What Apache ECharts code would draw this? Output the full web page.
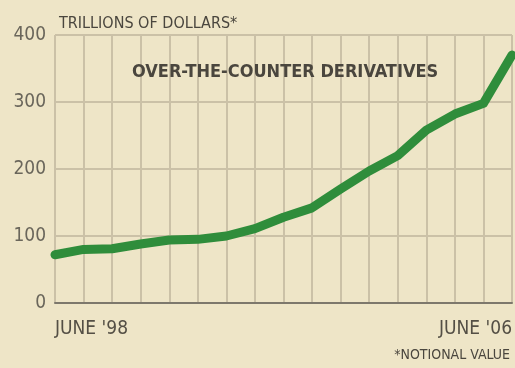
<!DOCTYPE html>
<html>
<head>
<meta charset="utf-8">
<script src="https://cdn.jsdelivr.net/npm/echarts@6/dist/echarts.min.js"></script>
<style>
  html, body { margin: 0; padding: 0; background: #eee5c7; }
  #chart { width: 515px; height: 368px; }
</style>
</head>
<body>
<div id="chart"></div>
<script>
// Semi-annual periods, June 1998 through June 2006
const periods = [
  "JUNE '98", "DEC. '98", "JUNE '99", "DEC. '99", "JUNE '00", "DEC. '00",
  "JUNE '01", "DEC. '01", "JUNE '02", "DEC. '02", "JUNE '03", "DEC. '03",
  "JUNE '04", "DEC. '04", "JUNE '05", "DEC. '05", "JUNE '06"
];
// Notional amounts outstanding, trillions of dollars
const notional = [72, 80, 81, 88, 94, 95, 100, 111, 128, 142, 170, 197, 220, 258, 282, 298, 370];
const yTicks = [0, 100, 200, 300, 400];

const font = "'Liberation Sans Narrow', 'DejaVu Sans Condensed', 'Liberation Sans', sans-serif";
const gridColor = '#cbc1a7';
const textColor = '#544f45';

const chart = echarts.init(document.getElementById('chart'), null, { renderer: 'canvas' });
chart.setOption({
  backgroundColor: '#eee5c7',
  animation: false,
  grid: { left: 55, right: 1, top: 35, bottom: 65, containLabel: false },
  title: [
    {
      text: 'TRILLIONS OF DOLLARS*',
      left: 54, top: 11,
      textStyle: { fontFamily: font, fontSize: 16, fontWeight: 'normal', color: '#4a463e' }
    },
    {
      text: 'OVER-THE-COUNTER DERIVATIVES',
      left: 127, top: 58,
      textStyle: { fontFamily: font, fontSize: 18, fontWeight: 'bold', color: '#4a463e' }
    },
    {
      text: '*NOTIONAL VALUE',
      right: 0, top: 343,
      textStyle: { fontFamily: font, fontSize: 14, fontWeight: 'normal', color: '#4a463e' }
    }
  ],
  xAxis: {
    type: 'category',
    data: periods,
    boundaryGap: false,
    axisLine: { show: true, lineStyle: { color: '#7d786c', width: 2 } },
    axisTick: { show: false },
    axisLabel: {
      interval: (i) => i === 0 || i === periods.length - 1,
      alignMinLabel: 'left',
      alignMaxLabel: 'right',
      margin: 17,
      fontFamily: font, fontSize: 19, color: textColor
    },
    splitLine: { show: true, interval: 0, lineStyle: { color: gridColor, width: 2 } }
  },
  yAxis: {
    type: 'value',
    min: yTicks[0],
    max: yTicks[yTicks.length - 1],
    interval: 100,
    axisLine: { show: false },
    axisTick: { show: false },
    axisLabel: { margin: 9, fontFamily: font, fontSize: 19, color: '#6a665b' },
    splitLine: { show: true, lineStyle: { color: gridColor, width: 2 } }
  },
  series: [{
    type: 'line',
    data: notional,
    symbol: 'none',
    smooth: false,
    clip: false,
    lineStyle: { color: '#2f8d3b', width: 9, cap: 'round', join: 'round' }
  }]
});
</script>
</body>
</html>
